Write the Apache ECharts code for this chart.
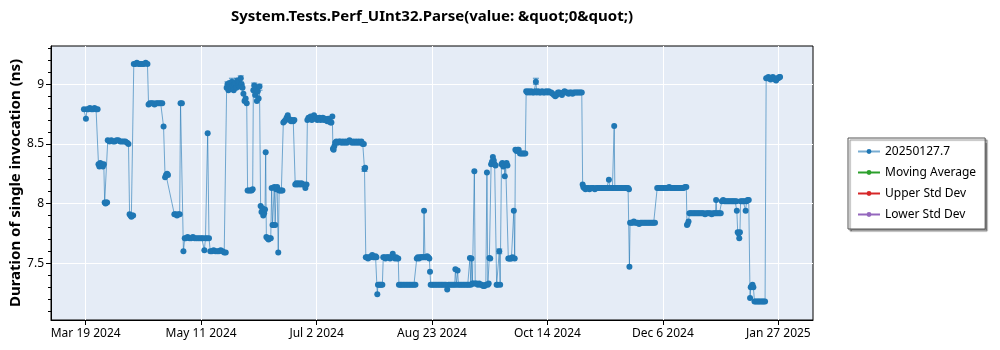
<!DOCTYPE html>
<html><head><meta charset="utf-8">
<script src="https://cdn.jsdelivr.net/npm/echarts@6/dist/echarts.min.js"></script>
<style>html,body{margin:0;padding:0;background:#fff}#chart{width:1000px;height:350px}</style>
</head><body><div id="chart"></div>
<script>
// x values are days after the first labelled tick (Mar 19 2024)
const startDate = '2024-03-19';
const xTickDays = [0, 52.33, 104.67, 157, 209.33, 261.67, 314];
const xTickLabels = ['Mar 19 2024', 'May 11 2024', 'Jul 2 2024', 'Aug 23 2024', 'Oct 14 2024', 'Dec 6 2024', 'Jan 27 2025'];
const yTickValues = [7.5, 8, 8.5, 9];
const yMinorTickValues = [7.1, 7.2, 7.3, 7.4, 7.6, 7.7, 7.8, 7.9, 8.1, 8.2, 8.3, 8.4, 8.6, 8.7, 8.8, 8.9, 9.1, 9.2, 9.3];
const seriesNames = ['20250127.7', 'Moving Average', 'Upper Std Dev', 'Lower Std Dev'];
const seriesColors = ['#1f77b4', '#2ca02c', '#d62728', '#9467bd'];
const titleText = 'System.Tests.Perf_UInt32.Parse(value: &quot;0&quot;)';
const yAxisTitle = 'Duration of single invocation (ns)';

// [day offset, duration ns]
const measurements = [
[-0.8,8.79],[0.1,8.71],[0.6,8.79],[1.2,8.79],[1.9,8.80],[2.6,8.79],[3.3,8.79],[4.0,8.80],[4.7,8.79],[5.4,8.79],
[5.8,8.33],[6.2,8.31],[6.6,8.34],[7.0,8.32],[7.4,8.33],[7.8,8.31],[8.2,8.33],
[8.6,8.01],[9.0,8.00],[9.4,8.01],[9.7,8.01],
[10.0,8.53],[10.8,8.52],[11.6,8.53],[12.4,8.52],[13.2,8.52],[14.0,8.53],[14.8,8.53],[15.6,8.52],[16.4,8.52],[17.2,8.52],[18.0,8.52],[18.8,8.51],[19.4,8.50],
[19.9,7.91],[20.3,7.90],[20.7,7.89],[21.1,7.90],[21.5,7.90],
[21.8,9.17],[22.5,9.17],[23.2,9.18],[24.0,9.17],[24.8,9.17],[25.6,9.17],[26.4,9.17],[27.2,9.18],[28.0,9.17],
[28.5,8.83],[29.1,8.84],[29.8,8.84],[30.5,8.84],[31.2,8.83],[31.9,8.84],[32.6,8.84],[33.3,8.84],[34.0,8.84],[34.7,8.84],
[35.3,8.645],[36.0,8.22],[36.4,8.24],[36.9,8.25],[37.3,8.24],
[40.2,7.91],[40.8,7.91],[41.4,7.90],[42.0,7.91],[42.6,7.91],[43.0,8.84],[43.6,8.84],[44.3,7.60],[44.9,7.71],
[45.4,7.71],[46.2,7.72],[47.0,7.71],[47.8,7.71],[48.6,7.72],[49.4,7.71],[50.2,7.71],[51.0,7.71],[51.8,7.71],[52.6,7.71],[53.2,7.71],[53.8,7.61],[54.3,7.71],[55.0,7.71],[55.3,8.59],[55.9,7.71],
[56.5,7.60],[57.2,7.60],[58.0,7.61],[58.8,7.60],[59.6,7.60],[60.4,7.60],[61.2,7.61],[62.0,7.60],[62.8,7.59],[63.5,7.59],
[63.9,8.97],[64.3,9.00],[64.7,8.95],[65.1,9.01],[65.5,8.98],[65.9,8.96],[66.3,9.02],[66.7,8.99],[67.1,8.95],[67.5,9.00],[67.9,9.01],[68.3,8.97],[68.7,9.03],[69.1,8.99],[69.5,9.02],[69.9,8.98],[70.3,9.05],[70.7,9.00],[71.1,8.97],[71.5,8.92],[72.0,8.86],[72.5,8.88],[73.0,8.84],
[73.4,8.11],[74.0,8.11],[74.6,8.11],[75.2,8.11],[75.7,8.12],
[76.0,8.95],[76.4,8.99],[76.8,8.91],[77.2,8.96],[77.6,8.86],[78.0,8.94],[78.4,8.88],[78.8,8.98],
[79.3,7.98],[79.7,7.93],[80.1,7.96],[80.5,7.90],[80.9,7.92],[81.3,7.95],[81.6,8.43],[81.9,7.72],[82.4,7.71],[82.9,7.70],[83.4,7.71],[83.9,7.71],
[84.3,8.13],[84.7,7.82],[85.1,7.82],[85.5,8.14],[85.9,7.82],[86.3,8.12],[86.8,8.14],[87.3,7.59],[87.7,8.11],[88.2,8.11],[88.7,8.11],[89.2,8.11],
[89.6,8.68],[90.1,8.69],[90.6,8.70],[91.1,8.72],[91.6,8.74],[92.1,8.71],[92.6,8.70],[93.1,8.69],[93.6,8.70],[94.1,8.69],[94.6,8.70],
[95.0,8.16],[95.5,8.17],[96.0,8.16],[96.6,8.17],[97.2,8.16],[97.8,8.17],[98.4,8.16],[99.0,8.16],[99.6,8.13],[100.1,8.16],
[100.5,8.70],[101.0,8.72],[101.5,8.71],[102.0,8.73],[102.5,8.70],[103.0,8.72],[103.5,8.74],[104.0,8.71],[104.5,8.72],[105.0,8.70],[105.5,8.71],[106.0,8.72],[106.5,8.70],[107.0,8.71],[107.5,8.72],[108.0,8.70],[108.5,8.71],[109.0,8.70],[109.5,8.69],[110.0,8.71],[110.5,8.69],[111.0,8.68],[111.4,8.68],[111.8,8.73],
[112.1,8.46],[112.4,8.45],[112.7,8.48],[113.1,8.51],[113.6,8.52],[114.2,8.51],[114.8,8.52],[115.4,8.52],[116.0,8.51],[116.6,8.52],[117.2,8.51],[117.8,8.52],[118.4,8.51],[119.0,8.52],[119.6,8.53],[120.2,8.52],[120.8,8.51],[121.4,8.52],[122.0,8.51],[122.6,8.52],[123.2,8.51],[123.8,8.52],[124.4,8.51],[125.0,8.52],[125.6,8.50],[126.1,8.50],
[126.4,8.29],[126.7,8.30],
[127.0,7.55],[127.5,7.55],[128.0,7.54],[128.5,7.55],[129.0,7.55],[129.5,7.56],[129.9,7.57],[130.4,7.55],[130.9,7.55],[131.4,7.56],[131.8,7.55],
[132.2,7.24],[132.5,7.32],[133.0,7.32],[133.5,7.32],[134.0,7.32],[134.5,7.32],
[134.9,7.55],[135.4,7.55],[135.9,7.54],[136.4,7.55],[137.0,7.55],[137.5,7.55],[138.0,7.54],[138.5,7.55],[139.2,7.58],[139.7,7.55],[140.2,7.54],[140.7,7.55],[141.2,7.54],[141.7,7.54],
[142.0,7.32],[142.6,7.32],[143.2,7.32],[143.9,7.32],[144.6,7.32],[145.3,7.32],[146.0,7.32],[146.7,7.32],[147.4,7.32],[148.1,7.32],[148.8,7.32],[149.5,7.32],
[150.1,7.54],[150.6,7.55],[151.1,7.54],[151.6,7.55],[152.1,7.55],[152.6,7.55],[153.1,7.55],[153.4,7.94],[153.8,7.55],[154.3,7.55],[154.8,7.56],[155.3,7.55],[155.8,7.54],
[156.1,7.43],[156.4,7.32],[157.0,7.32],[157.7,7.32],[158.4,7.32],[159.1,7.32],[159.8,7.32],[160.5,7.32],[161.2,7.32],[161.9,7.32],[162.6,7.32],[163.3,7.32],[163.9,7.28],[164.5,7.32],[165.2,7.32],[165.9,7.32],[166.6,7.32],[167.3,7.32],[167.6,7.45],[168.1,7.32],[168.6,7.44],[169.0,7.32],[169.7,7.32],[170.4,7.32],[171.1,7.32],[171.8,7.32],[172.5,7.32],[173.2,7.32],[173.8,7.32],[174.2,7.545],[174.6,7.32],[174.9,7.54],[175.3,7.33],[175.8,7.33],[176.2,8.27],[176.6,7.33],[177.2,7.33],[177.8,7.32],[178.4,7.33],[179.0,7.32],[179.6,7.32],[180.2,7.31],[180.8,7.31],[181.4,7.32],
[181.9,8.26],[182.3,7.32],[182.7,7.33],[183.0,7.545],[183.4,7.54],
[183.8,8.33],[184.2,8.35],[184.6,8.39],[185.0,8.36],[185.4,8.33],[185.8,8.32],
[186.3,7.32],[186.8,7.32],[187.5,7.60],[187.9,7.32],
[188.5,8.33],[188.9,8.34],[189.3,8.31],[189.7,8.33],[190.0,8.23],[190.4,8.33],[190.8,8.34],[191.2,8.32],
[191.6,7.54],[192.0,7.54],[192.5,7.54],[193.0,7.54],[193.5,7.55],[194.1,7.94],[194.5,7.54],
[194.8,8.45],[195.3,8.44],[195.8,8.45],[196.3,8.45],[196.9,8.42],[197.5,8.42],[198.1,8.42],[198.7,8.42],[199.3,8.42],
[199.7,8.94],[200.2,8.93],[200.8,8.94],[201.4,8.93],[202.0,8.94],[202.6,8.93],[203.2,8.93],[203.8,8.94],[204.1,9.02],[204.5,8.93],[205.1,8.94],[205.7,8.93],[206.3,8.93],[206.9,8.94],[207.5,8.93],[208.1,8.93],[208.7,8.94],[209.3,8.93],[209.9,8.94],[210.5,8.93],[211.1,8.93],[211.7,8.92],[212.3,8.91],[212.9,8.90],[213.5,8.91],[214.1,8.93],[214.7,8.93],[215.3,8.92],[215.9,8.91],[216.5,8.93],[217.1,8.94],[217.7,8.93],[218.3,8.93],[218.9,8.92],[219.5,8.93],[220.1,8.93],[220.7,8.92],[221.3,8.93],[221.9,8.93],[222.5,8.93],[223.1,8.93],[223.7,8.93],[224.3,8.93],[224.9,8.93],
[225.3,8.16],[225.6,8.14],[226.0,8.13],[226.6,8.12],[227.2,8.13],[227.8,8.13],[228.4,8.12],[229.0,8.13],[229.6,8.13],[230.2,8.13],[230.8,8.12],[231.4,8.13],[232.0,8.13],[232.6,8.13],[233.2,8.13],[233.8,8.13],[234.4,8.13],[235.0,8.13],[235.6,8.13],[236.2,8.13],[236.8,8.13],
[237.2,8.20],[237.6,8.13],[238.2,8.13],[238.8,8.13],[239.3,8.13],[239.6,8.65],[239.9,8.13],[240.5,8.13],[241.1,8.13],[241.7,8.13],[242.3,8.13],[242.9,8.13],[243.5,8.13],[244.1,8.13],[244.7,8.13],[245.3,8.13],[245.9,8.13],[246.3,8.12],
[246.5,7.47],[246.8,7.84],[247.3,7.84],[247.9,7.84],[248.5,7.85],[249.1,7.84],[249.7,7.84],[250.3,7.84],[250.9,7.83],[251.5,7.84],[252.1,7.84],[252.7,7.84],[253.3,7.84],[253.9,7.84],[254.5,7.84],[255.1,7.84],[255.7,7.84],[256.3,7.84],[256.9,7.84],[257.5,7.84],[258.1,7.84],
[259.1,8.13],[259.7,8.13],[260.3,8.13],[260.9,8.13],[261.5,8.13],[262.1,8.13],[262.7,8.13],[263.3,8.13],[263.9,8.13],[264.5,8.14],[265.1,8.13],[265.7,8.13],[266.3,8.13],[266.9,8.13],[267.5,8.13],[268.1,8.13],[268.7,8.13],[269.3,8.13],[269.9,8.13],[270.5,8.13],[271.1,8.13],[271.7,8.14],[272.3,8.14],
[272.6,7.82],[272.9,7.83],[273.3,7.85],[273.7,7.92],[274.2,7.92],[274.8,7.92],[275.4,7.92],[276.0,7.92],[276.6,7.92],[277.2,7.92],[277.8,7.92],[278.4,7.92],[279.0,7.92],[279.6,7.92],[280.2,7.92],[280.8,7.91],[281.4,7.92],[282.0,7.92],[282.6,7.92],[283.2,7.92],[283.8,7.91],[284.4,7.92],[285.0,7.92],[285.5,7.92],[285.8,8.03],[286.1,7.92],[286.7,7.92],[287.3,7.92],[287.9,7.92],
[288.4,8.02],[289.0,8.03],[289.6,8.02],[290.2,8.02],[290.8,8.02],[291.4,8.02],[292.0,8.02],[292.6,8.02],[293.2,8.02],[293.8,8.02],[294.4,8.02],[295.0,8.02],
[295.2,7.94],[295.6,7.76],[296.0,7.75],[296.3,7.71],[296.6,7.76],[296.9,8.02],[297.5,8.02],[298.1,8.02],[298.7,8.02],[299.2,7.94],[299.6,8.02],[300.1,8.03],[300.6,8.03],
[301.2,7.21],[301.5,7.30],[301.9,7.31],[302.3,7.32],[302.7,7.30],
[303.2,7.18],[303.8,7.18],[304.4,7.18],[305.0,7.18],[305.6,7.18],[306.2,7.18],[306.8,7.18],[307.4,7.18],[308.0,7.18],
[308.5,9.05],[309.0,9.05],[309.5,9.06],[310.0,9.05],[310.5,9.04],[311.0,9.05],[311.5,9.06],[312.0,9.05],[312.5,9.04],[313.0,9.03],[313.5,9.05],[314.0,9.05],[314.5,9.06],[314.8,9.06]
];

// [day offset, lower ns, upper ns] for the visible error bars
const errorBars = [
[64.3,8.97,9.02],[66.3,8.99,9.05],[68.7,9.00,9.05],[70.3,9.02,9.07],[76.4,8.96,9.01],[78.8,8.95,9.00],
[126.4,8.27,8.31],[187.5,7.58,7.62],[204.1,9.00,9.05]
];

const xMin = -15.73, xMax = 329.73, yMin = 7.025, yMax = 9.32;
const fontFamily = "'Noto Sans', 'DejaVu Sans', sans-serif";

const chart = echarts.init(document.getElementById('chart'), null, { renderer: 'canvas' });
const labelFor = v => {
  let best = 0;
  xTickDays.forEach((d, i) => { if (Math.abs(d - v) < Math.abs(xTickDays[best] - v)) best = i; });
  return xTickLabels[best];
};

chart.setOption({
  animation: false,
  backgroundColor: '#ffffff',
  title: {
    text: titleText,
    left: 432, top: 9, textAlign: 'center', padding: 0,
    textStyle: { fontFamily, fontSize: 15, fontWeight: 'bold', color: '#000' }
  },
  legend: {
    orient: 'vertical',
    left: 848, top: 138,
    padding: [6, 9, 7, 9],
    itemGap: 6,
    itemWidth: 22, itemHeight: 6,
    backgroundColor: '#ffffff',
    borderColor: '#555', borderWidth: 1, borderRadius: 0,
    shadowColor: 'rgba(0,0,0,0.45)', shadowOffsetX: 2, shadowOffsetY: 2, shadowBlur: 1,
    textStyle: { fontFamily, fontSize: 12, color: '#000', lineHeight: 15 },
    data: seriesNames
  },
  grid: {
    left: 51, top: 46, right: 187, bottom: 30,
    outerBoundsMode: 'none', containLabel: false,
    show: true, backgroundColor: '#e5ecf6', borderColor: '#000', borderWidth: 1
  },
  xAxis: {
    type: 'value', min: xMin, max: xMax,
    axisLine: { show: true, onZero: false, lineStyle: { color: '#000' } },
    axisTick: { show: true, customValues: xTickDays, length: 5, lineStyle: { color: '#000' } },
    axisLabel: { customValues: xTickDays, formatter: labelFor, fontFamily, fontSize: 12, color: '#000', margin: 8 },
    splitLine: { show: true, lineStyle: { color: '#ffffff', width: 1 } }
  },
  yAxis: [{
    type: 'value', min: yMin, max: yMax,
    name: yAxisTitle, nameLocation: 'middle', nameGap: 28, nameRotate: 90, nameMoveOverlap: false,
    nameTextStyle: { fontFamily, fontSize: 15, fontWeight: 'bold', color: '#000' },
    axisLine: { show: true, onZero: false, lineStyle: { color: '#000' } },
    axisTick: { show: true, customValues: yTickValues, length: 5, lineStyle: { color: '#000' } },
    axisLabel: { customValues: yTickValues, fontFamily, fontSize: 12, color: '#000', margin: 7 },
    splitLine: { show: true, lineStyle: { color: '#ffffff', width: 1 } }
  }, {
    type: 'value', min: yMin, max: yMax, position: 'left',
    axisLine: { show: false, onZero: false },
    axisTick: { show: true, customValues: yMinorTickValues, length: 3, lineStyle: { color: '#000' } },
    axisLabel: { show: false },
    splitLine: { show: false }
  }],
  series: [{
    name: seriesNames[0], type: 'line', data: measurements,
    yAxisIndex: 0,
    symbol: 'circle', symbolSize: 6, showSymbol: true,
    color: seriesColors[0],
    itemStyle: { color: seriesColors[0] },
    lineStyle: { color: seriesColors[0], width: 1, opacity: 0.6 },
    emphasis: { disabled: true }
  }, {
    name: 'errors', type: 'custom', data: errorBars, yAxisIndex: 0, silent: true,
    renderItem: (params, api) => {
      const lo = api.coord([api.value(0), api.value(1)]);
      const hi = api.coord([api.value(0), api.value(2)]);
      const w = 3;
      const style = { stroke: seriesColors[0], lineWidth: 1, opacity: 0.75 };
      return { type: 'group', children: [
        { type: 'line', shape: { x1: lo[0], y1: lo[1], x2: hi[0], y2: hi[1] }, style },
        { type: 'line', shape: { x1: lo[0] - w, y1: lo[1], x2: lo[0] + w, y2: lo[1] }, style },
        { type: 'line', shape: { x1: hi[0] - w, y1: hi[1], x2: hi[0] + w, y2: hi[1] }, style }
      ] };
    }
  }].concat(seriesNames.slice(1).map((n, i) => ({
    name: n, type: 'line', data: [], symbol: 'circle', symbolSize: 5,
    color: seriesColors[i + 1], itemStyle: { color: seriesColors[i + 1] },
    lineStyle: { color: seriesColors[i + 1], width: 1 }
  })))
});
</script></body></html>
